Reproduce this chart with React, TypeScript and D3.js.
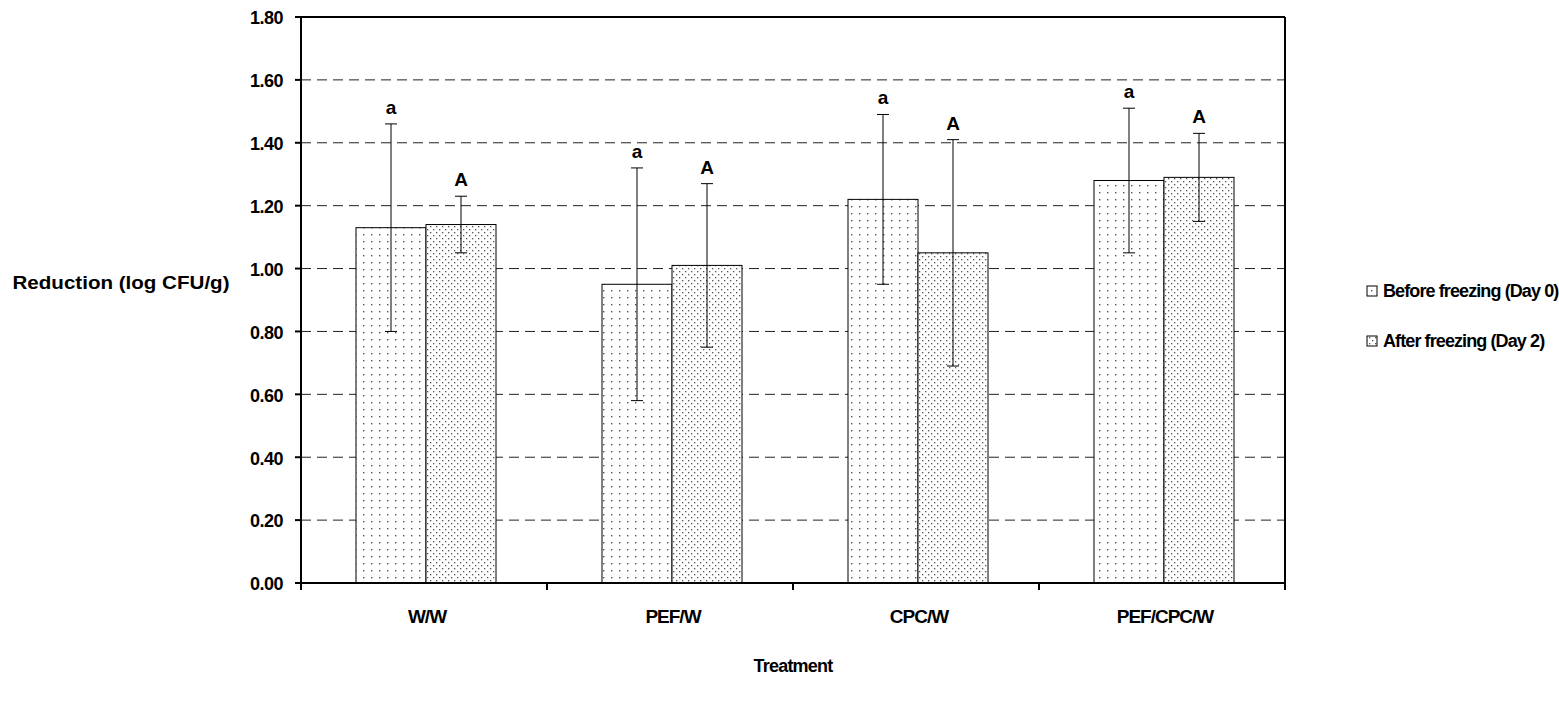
import React from "react";
import * as d3 from "d3";

const categories = ["W/W", "PEF/W", "CPC/W", "PEF/CPC/W"];
const seriesNames = ["Before freezing (Day 0)", "After freezing (Day 2)"];
const beforeValues = [1.13, 0.95, 1.22, 1.28];
const beforeLow = [0.8, 0.58, 0.95, 1.05];
const beforeHigh = [1.46, 1.32, 1.49, 1.51];
const afterValues = [1.14, 1.01, 1.05, 1.29];
const afterLow = [1.05, 0.75, 0.69, 1.15];
const afterHigh = [1.23, 1.27, 1.41, 1.43];
const beforeLetters = ["a", "a", "a", "a"];
const afterLetters = ["A", "A", "A", "A"];
const yTicks = [0, 0.2, 0.4, 0.6, 0.8, 1.0, 1.2, 1.4, 1.6, 1.8];

const W = 1559;
const H = 704;
const L = 301, R = 1285, T = 17, B = 583;
const FONT = "'Liberation Sans', Arial, sans-serif";

export default function App() {
  const x = d3.scaleBand<string>().domain(categories).range([L, R]).padding(0);
  const y = d3.scaleLinear().domain([0, 1.8]).range([B, T]);
  const barW = 70;
  const series = [
    { vals: beforeValues, lo: beforeLow, hi: beforeHigh, letters: beforeLetters, fill: "url(#patA)", off: -barW },
    { vals: afterValues, lo: afterLow, hi: afterHigh, letters: afterLetters, fill: "url(#patB)", off: 0 },
  ];
  return (
    <svg width={W} height={H} style={{ position: "absolute", left: 0, top: 0, background: "#fff" }} fontFamily={FONT}>
      <defs>
        <pattern id="patA" width="8" height="7" patternUnits="userSpaceOnUse">
          <rect width="8" height="7" fill="#fff" />
          <rect x="3" y="3" width="1.4" height="1.4" fill="#555" />
        </pattern>
        <pattern id="patB" width="6" height="6" patternUnits="userSpaceOnUse">
          <rect width="6" height="6" fill="#fff" />
          <rect x="1" y="1" width="1.3" height="1.3" fill="#555" />
          <rect x="4" y="4" width="1.3" height="1.3" fill="#555" />
        </pattern>
      </defs>
      {yTicks.filter((t) => t > 0 && t < 1.8).map((t) => (
        <line key={t} x1={L} x2={R} y1={y(t)} y2={y(t)} stroke="#222" strokeWidth={1} strokeDasharray="10,6" />
      ))}
      {series.map((s, si) =>
        categories.map((c, i) => {
          const cx = x(c)! + x.bandwidth() / 2 + 2;
          const bx = cx + s.off;
          return (
            <rect key={`${si}-${i}`} x={bx} y={y(s.vals[i])} width={barW} height={B - y(s.vals[i])} fill={s.fill} stroke="#000" strokeWidth={1} />
          );
        })
      )}
      {series.map((s, si) =>
        categories.map((c, i) => {
          const cx = x(c)! + x.bandwidth() / 2 + 2 + s.off + barW / 2;
          return (
            <g key={`e${si}-${i}`}>
              <line x1={cx} x2={cx} y1={y(s.lo[i])} y2={y(s.hi[i])} stroke="#000" strokeWidth={1} />
              <line x1={cx - 6} x2={cx + 6} y1={y(s.lo[i])} y2={y(s.lo[i])} stroke="#000" strokeWidth={1} />
              <line x1={cx - 6} x2={cx + 6} y1={y(s.hi[i])} y2={y(s.hi[i])} stroke="#000" strokeWidth={1} />
              <text x={cx} y={y(s.hi[i]) - 10} textAnchor="middle" fontSize={19} fontWeight="bold">{s.letters[i]}</text>
            </g>
          );
        })
      )}
      <line x1={L} x2={R} y1={T} y2={T} stroke="#000" strokeWidth={2} />
      <line x1={R} x2={R} y1={T} y2={B} stroke="#000" strokeWidth={2} />
      <line x1={L} x2={L} y1={T} y2={B} stroke="#000" strokeWidth={2} />
      <line x1={L} x2={R} y1={B} y2={B} stroke="#000" strokeWidth={2} />
      {yTicks.map((t) => (
        <g key={`yt${t}`}>
          <line x1={L - 6} x2={L} y1={y(t)} y2={y(t)} stroke="#000" strokeWidth={2} />
          <text x={283} y={y(t) + 1} dy="0.35em" textAnchor="end" fontSize={18} fontWeight="bold" letterSpacing={-0.5}>{t.toFixed(2)}</text>
        </g>
      ))}
      {[...categories.map((c) => x(c)!), R].map((v, i) => (
        <line key={`xt${i}`} x1={v} x2={v} y1={B} y2={B + 7} stroke="#000" strokeWidth={2} />
      ))}
      {categories.map((c) => (
        <text key={`xl${c}`} x={x(c)! + x.bandwidth() / 2 + 3} y={623} textAnchor="middle" fontSize={19} fontWeight="bold" letterSpacing={-1}>{c}</text>
      ))}
      <text x={(L + R) / 2} y={672} textAnchor="middle" fontSize={18} fontWeight="bold" letterSpacing={-0.8}>Treatment</text>
      <text x={121} y={283} dy="0.35em" textAnchor="middle" fontSize={18} fontWeight="bold" textLength={217} lengthAdjust="spacingAndGlyphs">Reduction (log CFU/g)</text>
      {seriesNames.map((n, i) => (
        <g key={n}>
          <rect x={1367} y={286 + i * 50} width={10} height={10} fill={i === 0 ? "url(#patA)" : "url(#patB)"} stroke="#000" strokeWidth={1} />
          <text x={1383} y={291 + i * 50} dy="0.35em" fontSize={18} fontWeight="bold" letterSpacing={-0.9}>{n}</text>
        </g>
      ))}
    </svg>
  );
}
